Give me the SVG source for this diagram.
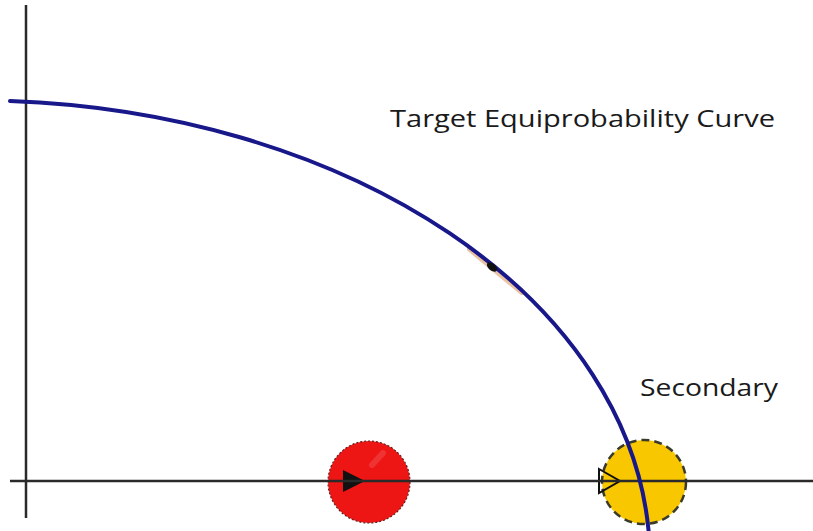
<svg xmlns="http://www.w3.org/2000/svg" width="813" height="531" viewBox="0 0 813 531">
<style>
.axis{stroke:#2a2a2a;stroke-width:2.5;fill:none}
.curve{stroke:#18188a;stroke-width:4;fill:none;stroke-linecap:round}
.lbl{font-family:"Open Sans","Noto Sans",sans-serif;font-size:24px;fill:#1a1a1a}
</style>
<rect width="813" height="531" fill="#ffffff"/>
<g id="secondary">
<circle cx="644" cy="482" r="42" fill="#f8c700" stroke="#3a3a2a" stroke-width="2.5" stroke-dasharray="8 5"/>
<polygon points="599,469 620,481 599,493" fill="none" stroke="#111" stroke-width="2"/>
</g>
<g id="primary">
<circle cx="369" cy="482" r="41" fill="#ee1515" stroke="#5a2020" stroke-width="1.2" stroke-dasharray="2 2"/>
<path d="M372,465 L383,453" stroke="#f26a6a" stroke-width="6" stroke-linecap="round" opacity="0.35"/>
<polygon points="343,470 365,481 343,492" fill="#111"/>
</g>
<g id="connectors">
<line class="axis" x1="26" y1="5" x2="26" y2="518"/>
<line class="axis" x1="10" y1="481" x2="813" y2="481"/>
<path d="M470,249 L522,292" stroke="#d9894a" stroke-width="6" stroke-linecap="round" opacity="0.5"/>
<path class="curve" d="M10,101 A675,459.6 0 0 1 648.6,531"/>
<ellipse cx="492" cy="267" rx="6" ry="3.5" transform="rotate(40 492 267)" fill="#111"/>
</g>
<g id="curve-label">
<text class="lbl" x="390" y="127" textLength="385" lengthAdjust="spacingAndGlyphs">Target Equiprobability Curve</text>
</g>
<g id="secondary-label">
<text class="lbl" x="640" y="396" textLength="138" lengthAdjust="spacingAndGlyphs">Secondary</text>
</g>
</svg>
